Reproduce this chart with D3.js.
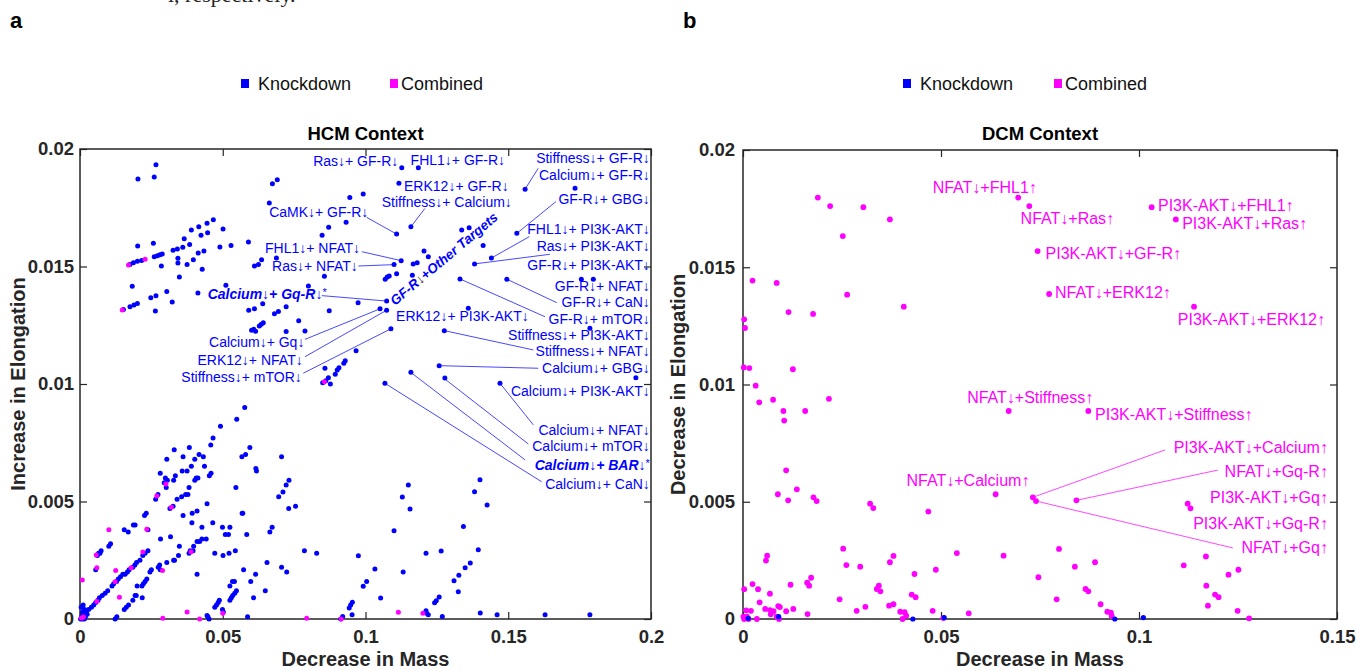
<!DOCTYPE html>
<html>
<head>
<meta charset="utf-8">
<script src="https://d3js.org/d3.v7.min.js"></script>
<style>
  body { margin: 0; background: #fff; }
  text { font-family: "Liberation Sans", Arial, Helvetica, sans-serif; }
</style>
</head>
<body>
<svg id="fig" width="1356" height="671"></svg>
<script>
// ---- data -------------------------------------------------------------
var yTicks = [0, 0.005, 0.01, 0.015, 0.02];
var hcmXTicks = [0, 0.05, 0.1, 0.15, 0.2];
var dcmXTicks = [0, 0.05, 0.1, 0.15];
var legendNames = ["Knockdown", "Combined"];

// HCM context: [decrease in mass, increase in elongation]
var hcmKnockdown = [
  [0.0266,0.01933],[0.0203,0.01872],[0.0260,0.01881],
  [0.0674,0.01852],[0.0691,0.01869],[0.0663,0.01770],
  [0.0992,0.01809],[0.0945,0.01794],[0.0932,0.01688],[0.0871,0.01667],[0.0848,0.01633],
  [0.0467,0.01699],[0.0445,0.01684],[0.0416,0.01669],[0.0390,0.01655],[0.0501,0.01660],
  [0.0447,0.01644],[0.0424,0.01633],[0.0365,0.01618],[0.0384,0.01594],
  [0.0202,0.01587],[0.0257,0.01599],[0.0590,0.01604],[0.0529,0.01589],[0.0490,0.01583],
  [0.0360,0.01582],[0.0341,0.01574],[0.0326,0.01569],
  [0.0434,0.01566],[0.0414,0.01557],[0.0397,0.01529],[0.0375,0.01509],[0.0343,0.01535],[0.0343,0.01515],
  [0.0175,0.01508],[0.0187,0.01516],[0.0201,0.01522],[0.0216,0.01526],[0.0260,0.01542],[0.0271,0.01546],[0.0280,0.01550],[0.0288,0.01553],
  [0.0285,0.01502],[0.0428,0.01488],[0.0348,0.01455],[0.0183,0.01416],[0.0511,0.01420],
  [0.0304,0.01394],[0.0266,0.01376],[0.0248,0.01367],[0.0323,0.01349],[0.0264,0.01311],
  [0.0152,0.01317],[0.0175,0.01329],[0.0189,0.01336],[0.0201,0.01343],
  [0.0636,0.01529],[0.0625,0.01508],[0.0611,0.01502],[0.0688,0.01536],[0.0856,0.01458],[0.0800,0.01417],[0.0413,0.01387],
  [0.0591,0.01314],[0.0611,0.01320],[0.0640,0.01342],[0.0681,0.01299],[0.0695,0.01308],[0.0722,0.01329],
  [0.0601,0.01229],[0.0609,0.01233],[0.0615,0.01224],[0.0628,0.01247],[0.0635,0.01254],[0.0642,0.01261],
  [0.0722,0.01223],[0.0766,0.01269],[0.0788,0.01226],[0.0873,0.01312],[0.0974,0.01346],[0.0967,0.01142],
  [0.0929,0.01099],[0.0924,0.01088],[0.0907,0.01069],[0.0901,0.01060],[0.0894,0.01041],[0.0870,0.01027],
  [0.0861,0.01014],[0.0858,0.01067],[0.0877,0.01000],[0.0850,0.01005],
  [0.1127,0.01920],[0.1185,0.01920],[0.1117,0.01854],[0.1559,0.01829],[0.1734,0.01833],
  [0.1109,0.01638],[0.1159,0.01669],[0.1337,0.01655],[0.1363,0.01665],[0.1412,0.01589],[0.1530,0.01641],
  [0.1441,0.01536],[0.1382,0.01511],[0.1205,0.01566],[0.1220,0.01542],[0.1125,0.01525],
  [0.1167,0.01511],[0.1181,0.01516],[0.1100,0.01508],
  [0.1109,0.01469],[0.1076,0.01455],[0.1069,0.01446],[0.1083,0.01460],[0.1164,0.01463],
  [0.1331,0.01447],[0.1495,0.01446],[0.1756,0.01446],[0.1798,0.01446],
  [0.1074,0.01353],[0.1051,0.01320],[0.1074,0.01314],[0.1360,0.01322],[0.1786,0.01237],
  [0.1089,0.01235],[0.1276,0.01227],[0.1258,0.01078],[0.1947,0.01027],[0.1159,0.01050],[0.1278,0.01026],
  [0.1471,0.01003],[0.1068,0.01003],
  [0.1150,0.00570],[0.1129,0.00519],[0.1156,0.00468],[0.1100,0.00376],[0.0975,0.00269],[0.1033,0.00213],
  [0.1132,0.00200],[0.1004,0.00160],[0.0992,0.00139],[0.1053,0.00089],[0.0954,0.00071],[0.0948,0.00060],
  [0.0943,0.00047],[0.0953,0.00018],[0.0920,0.00011],[0.0913,0.00000],
  [0.1212,0.00035],[0.1214,0.00024],[0.1220,0.00018],[0.1242,0.00069],[0.1248,0.00078],[0.1258,0.00094],
  [0.1269,0.00011],[0.1212,0.00280],[0.1265,0.00289],
  [0.1310,0.00163],[0.1327,0.00186],[0.1349,0.00218],[0.1367,0.00238],[0.1325,0.00116],[0.1395,0.00295],
  [0.1343,0.00394],[0.1382,0.00542],[0.1401,0.00593],[0.1426,0.00485],
  [0.1402,0.00026],[0.1461,0.00018],[0.1629,0.00018],[0.1786,0.00018],
  [0.0002,0.0000],[0.0006,0.0001],[0.0009,0.0003],[0.0013,0.0002],[0.0016,0.0004],[0.0019,0.0001],
  [0.0022,0.0003],[0.0004,0.0005],[0.0011,0.0006],[0.0025,0.0002],[0.0008,0.0000],[0.0015,0.0000],
  [0.0030,0.0004],[0.0040,0.0005],[0.0048,0.0006],[0.0055,0.0007],[0.0063,0.0008],[0.0068,0.0009],
  [0.0078,0.0010],[0.0088,0.0011],[0.0097,0.0012],[0.0112,0.0014],[0.0118,0.0015],[0.0128,0.0016],
  [0.0134,0.0017],[0.0142,0.0018],[0.0150,0.0019],[0.0158,0.0019],[0.0166,0.0020],[0.0172,0.0021],
  [0.0185,0.0022],[0.0192,0.0023],[0.0198,0.0024],[0.0210,0.0025],[0.0220,0.0027],[0.0228,0.0028],[0.0238,0.0029],
  [0.0061,0.0027],[0.0065,0.0028],[0.0070,0.0028],[0.0074,0.0029],[0.0101,0.0031],[0.0107,0.0032],[0.0055,0.0021],
  [0.0155,0.0038],[0.0169,0.0037],[0.0187,0.0040],[0.0193,0.0040],[0.0226,0.0044],[0.0232,0.0045],[0.0238,0.0038],
  [0.0265,0.0051],[0.0273,0.0053],[0.0295,0.0058],[0.0302,0.0056],[0.0306,0.0059],[0.0299,0.0060],
  [0.0281,0.0062],[0.0304,0.0068],[0.0330,0.0072],[0.0334,0.0061],[0.0328,0.0059],[0.0358,0.0063],
  [0.0375,0.0063],[0.0390,0.0065],[0.0361,0.0069],[0.0383,0.0073],[0.0402,0.0068],[0.0417,0.0070],
  [0.0432,0.0069],[0.0436,0.0065],[0.0453,0.0061],[0.0459,0.0062],[0.0407,0.0060],[0.0402,0.0059],
  [0.0413,0.0060],[0.0466,0.0077],[0.0458,0.0074],[0.0492,0.0082],[0.0549,0.0085],[0.0577,0.0090],[0.0382,0.0056],
  [0.0340,0.0051],[0.0356,0.0052],[0.0370,0.0053],[0.0378,0.0053],[0.0315,0.0047],[0.0326,0.0048],
  [0.0361,0.0044],[0.0393,0.0045],[0.0410,0.0046],[0.0445,0.0049],[0.0465,0.0041],[0.0427,0.0039],
  [0.0392,0.0041],[0.0499,0.0039],[0.0525,0.0039],[0.0570,0.0045],[0.0584,0.0036],[0.0509,0.0036],
  [0.0520,0.0036],[0.0546,0.0056],
  [0.0282,0.0034],[0.0304,0.0024],[0.0281,0.0021],[0.0274,0.0022],[0.0328,0.0025],[0.0331,0.0025],
  [0.0345,0.0027],[0.0348,0.0031],[0.0382,0.0028],[0.0386,0.0029],[0.0396,0.0029],[0.0398,0.0031],
  [0.0410,0.0033],[0.0419,0.0033],[0.0427,0.0034],[0.0442,0.0034],[0.0410,0.0019],[0.0472,0.0028],
  [0.0501,0.0027],[0.0522,0.0028],[0.0544,0.0029],[0.0573,0.0021],[0.0279,0.0023],[0.0317,0.0035],
  [0.0123,0.0000],[0.0129,0.0001],[0.0155,0.0004],[0.0162,0.0005],[0.0170,0.0006],[0.0185,0.0008],
  [0.0193,0.0010],[0.0197,0.0010],[0.0217,0.0014],[0.0222,0.0015],[0.0228,0.0016],[0.0234,0.0017],
  [0.0218,0.0009],[0.0200,0.0014],[0.0245,0.0020],[0.0250,0.0021],
  [0.0445,0.00015],[0.0448,0.0001],[0.0452,0.0000],[0.0472,0.0005],[0.0478,0.0006],[0.0484,0.0007],
  [0.0488,0.0008],[0.0499,0.0004],[0.0502,0.0003],[0.0525,0.0008],[0.0530,0.0009],[0.0535,0.0010],
  [0.0542,0.0011],[0.0548,0.0012],[0.0525,0.0014],[0.0534,0.0016],[0.0541,0.0016],[0.0598,0.0016],
  [0.0615,0.0019],[0.0608,0.0009],[0.0649,0.0012],[0.0587,0.0001],[0.0655,0.0024],[0.0706,0.0022],
  [0.0724,0.0020],[0.0786,0.0029],[0.0829,0.0028],[0.0665,0.0037],[0.0673,0.0039],[0.0696,0.0052],
  [0.0711,0.0054],[0.0722,0.0057],[0.0732,0.0059],[0.0731,0.0047],[0.0755,0.0048],[0.0706,0.0069],
  [0.0616,0.0064],[0.0618,0.0063],[0.0567,0.0069],[0.0580,0.0070],[0.0595,0.0073],[0.0568,0.0045]
];
var hcmCombined = [
  [0.0170,0.01506],[0.0228,0.01531],[0.0148,0.01315],[0.0856,0.01010],
  [0.0008,0.00166],[0.0101,0.00380],[0.0059,0.00218],[0.0057,0.00272],[0.0125,0.00206],[0.0138,0.00093],
  [0.0220,0.00285],[0.0234,0.00382],[0.0269,0.00523],[0.0301,0.00575],[0.0289,0.00206],[0.0320,0.00476],
  [0.0389,0.00286],[0.0375,0.00030],[0.0290,0.00003],[0.0419,0.00000],[0.0500,0.00025],[0.0794,0.00003],
  [0.0179,0.00218],[0.0123,0.00159],[0.0059,0.00075],[0.0012,0.00008],[0.0005,0.00004],
  [0.0915,0.00000],[0.1115,0.00029],[0.1201,0.00024]
];

// DCM context: [decrease in mass, decrease in elongation]
var dcmKnockdown = [
  [0.0013,0.00003],[0.0090,0.00010],[0.0429,0.00000],[0.0508,0.00006],[0.0939,0.00000],[0.1011,0.00006]
];
var dcmCombined = [
  [0.0189,0.01797],[0.0220,0.01761],[0.0304,0.01756],[0.0371,0.01704],[0.0252,0.01633],[0.0024,0.01443],
  [0.0085,0.01433],[0.0263,0.01383],[0.0406,0.01332],[0.0115,0.01309],[0.0177,0.01301],[0.0003,0.01278],
  [0.0005,0.01241],[0.0002,0.01073],[0.0016,0.01070],[0.0126,0.01065],[0.0032,0.00995],
  [0.0695,0.01797],[0.0723,0.01761],[0.1032,0.01756],[0.1093,0.01704],[0.0744,0.01569],[0.0773,0.01386],[0.1139,0.01332],
  [0.0041,0.00924],[0.0076,0.00935],[0.0217,0.00939],[0.0102,0.00887],[0.0104,0.00846],[0.0157,0.00887],
  [0.0671,0.00887],[0.0872,0.00887],
  [0.0109,0.00634],[0.0088,0.00532],[0.0114,0.00506],[0.0136,0.00553],[0.0178,0.00519],[0.0186,0.00503],
  [0.0321,0.00492],[0.0329,0.00473],[0.0468,0.00458],[0.0638,0.00532],
  [0.0732,0.00519],[0.0740,0.00503],[0.0842,0.00506],[0.1123,0.00492],[0.1130,0.00472],
  [0.0253,0.00300],[0.0261,0.00230],[0.0296,0.00223],[0.0058,0.00249],[0.0061,0.00270],[0.0371,0.00242],
  [0.0380,0.00269],[0.0433,0.00192],[0.0487,0.00210],[0.0540,0.00281],[0.0658,0.00270],
  [0.0798,0.00299],[0.0838,0.00223],[0.0889,0.00242],[0.0746,0.00178],[0.0792,0.00084],[0.0865,0.00128],
  [0.0872,0.00118],[0.0903,0.00063],[0.0920,0.00031],[0.0929,0.00027],[0.0931,0.00013],
  [0.1113,0.00229],[0.1169,0.00267],[0.1226,0.00189],[0.1251,0.00210],[0.1170,0.00142],[0.1192,0.00104],
  [0.1201,0.00093],[0.1174,0.00057],[0.1249,0.00035],[0.1278,0.00003],
  [0.0003,0.00127],[0.0024,0.00149],[0.0038,0.00127],[0.0068,0.00108],[0.0120,0.00146],[0.0162,0.00155],
  [0.0167,0.00142],[0.0172,0.00176],[0.0042,0.00071],[0.0089,0.00055],[0.0093,0.00051],[0.0056,0.00043],
  [0.0068,0.00038],[0.0077,0.00033],[0.0109,0.00033],[0.0127,0.00043],[0.0163,0.00021],[0.0008,0.00037],[0.0020,0.00035],
  [0.0244,0.00084],[0.0287,0.00035],[0.0309,0.00052],[0.0338,0.00128],[0.0343,0.00142],[0.0347,0.00118],
  [0.0369,0.00057],[0.0380,0.00063],[0.0397,0.00031],[0.0408,0.00029],[0.0412,0.00014],[0.0403,0.00000],
  [0.0426,0.00104],[0.0436,0.00093],[0.0479,0.00035],[0.0570,0.00024],[0.0506,0.00004],
  [0.0001,0.00010],[0.0003,0.00000],[0.0010,0.00010],[0.0014,0.00000],[0.0085,0.00010],[0.0091,0.00000],
  [0.0070,0.00020],[0.0035,0.00000]
];

// annotations: text, anchor position (data units), text-anchor, style,
// optional leader line from [lx, ly] to target [tx, ty]
var hcmLabels = [
  { t: "Ras\u2193+ GF-R\u2193", x: 0.1115, y: 0.01926, a: "end" },
  { t: "FHL1\u2193+ GF-R\u2193", x: 0.1158, y: 0.01934, a: "start" },
  { t: "Stiffness\u2193+ GF-R\u2193", x: 0.1996, y: 0.01940, a: "end", l: [0.1605, 0.01918, 0.1559, 0.01829] },
  { t: "Calcium\u2193+ GF-R\u2193", x: 0.1996, y: 0.01868, a: "end" },
  { t: "ERK12\u2193+ GF-R\u2193", x: 0.1135, y: 0.01823, a: "start" },
  { t: "Stiffness\u2193+ Calcium\u2193", x: 0.1057, y: 0.01753, a: "start", l: [0.1208, 0.01747, 0.1159, 0.01669] },
  { t: "GF-R\u2193+ GBG\u2193", x: 0.1996, y: 0.01766, a: "end", l: [0.1667, 0.01776, 0.1530, 0.01641] },
  { t: "CaMK\u2193+ GF-R\u2193", x: 0.1010, y: 0.01711, a: "end", l: [0.1004, 0.01709, 0.1109, 0.01638] },
  { t: "FHL1\u2193+ PI3K-AKT\u2193", x: 0.1996, y: 0.01640, a: "end", l: [0.1574, 0.01627, 0.1441, 0.01536] },
  { t: "Ras\u2193+ PI3K-AKT\u2193", x: 0.1996, y: 0.01564, a: "end", l: [0.1646, 0.01552, 0.1382, 0.01511] },
  { t: "GF-R\u2193+ PI3K-AKT\u2193", x: 0.1996, y: 0.01483, a: "end" },
  { t: "GF-R\u2193+ NFAT\u2193", x: 0.1996, y: 0.01394, a: "end" },
  { t: "GF-R\u2193+ CaN\u2193", x: 0.1996, y: 0.01326, a: "end", l: [0.1670, 0.01346, 0.1495, 0.01446] },
  { t: "GF-R\u2193+ mTOR\u2193", x: 0.1996, y: 0.01255, a: "end", l: [0.1629, 0.01286, 0.1331, 0.01447] },
  { t: "Stiffness\u2193+ PI3K-AKT\u2193", x: 0.1996, y: 0.01187, a: "end" },
  { t: "Stiffness\u2193+ NFAT\u2193", x: 0.1996, y: 0.01119, a: "end", l: [0.1588, 0.01145, 0.1276, 0.01227] },
  { t: "ERK12\u2193+ PI3K-AKT\u2193", x: 0.1107, y: 0.01266, a: "start" },
  { t: "Calcium\u2193+ GBG\u2193", x: 0.1996, y: 0.01047, a: "end", l: [0.1605, 0.01067, 0.1258, 0.01078] },
  { t: "Calcium\u2193+ PI3K-AKT\u2193", x: 0.1996, y: 0.00951, a: "end" },
  { t: "Calcium\u2193+ NFAT\u2193", x: 0.1996, y: 0.00781, a: "end", l: [0.1588, 0.00826, 0.1471, 0.01003] },
  { t: "Calcium\u2193+ mTOR\u2193", x: 0.1996, y: 0.00713, a: "end", l: [0.1570, 0.00745, 0.1276, 0.01023] },
  { t: "Calcium\u2193+ BAR\u2193", star: true, x: 0.1996, y: 0.00632, a: "end", bold: true, l: [0.1559, 0.00677, 0.1158, 0.01050] },
  { t: "Calcium\u2193+ CaN\u2193", x: 0.1996, y: 0.00553, a: "end", l: [0.1617, 0.00584, 0.1068, 0.01003] },
  { t: "FHL1\u2193+ NFAT\u2193", x: 0.0981, y: 0.01557, a: "end", l: [0.0987, 0.01563, 0.1125, 0.01525] },
  { t: "Ras\u2193+ NFAT\u2193", x: 0.0973, y: 0.01481, a: "end", l: [0.0975, 0.01502, 0.1100, 0.01508] },
  { t: "Calcium\u2193+ Gq-R\u2193", star: true, x: 0.0864, y: 0.01360, a: "end", bold: true, l: [0.0847, 0.01376, 0.1074, 0.01353] },
  { t: "Calcium\u2193+ Gq\u2193", x: 0.0786, y: 0.01157, a: "end", l: [0.0788, 0.01190, 0.1051, 0.01320] },
  { t: "ERK12\u2193+ NFAT\u2193", x: 0.0780, y: 0.01081, a: "end", l: [0.0788, 0.01116, 0.1074, 0.01314] },
  { t: "Stiffness\u2193+ mTOR\u2193", x: 0.0777, y: 0.01007, a: "end", l: [0.0782, 0.01046, 0.1089, 0.01235] }
];
var hcmGroupLabel = { x: 0.1103, y: 0.01332, angle: -40 };

var dcmLabels = [
  { t: "NFAT\u2193+FHL1\u2191", x: 0.0742, y: 0.01818, a: "end" },
  { t: "NFAT\u2193+Ras\u2191", x: 0.0701, y: 0.01686, a: "start" },
  { t: "PI3K-AKT\u2193+FHL1\u2191", x: 0.1048, y: 0.01740, a: "start" },
  { t: "PI3K-AKT\u2193+Ras\u2191", x: 0.1109, y: 0.01662, a: "start" },
  { t: "PI3K-AKT\u2193+GF-R\u2191", x: 0.0764, y: 0.01534, a: "start" },
  { t: "NFAT\u2193+ERK12\u2191", x: 0.0788, y: 0.01368, a: "start" },
  { t: "PI3K-AKT\u2193+ERK12\u2191", x: 0.1098, y: 0.01252, a: "start" },
  { t: "NFAT\u2193+Stiffness\u2191", x: 0.0566, y: 0.00921, a: "start" },
  { t: "PI3K-AKT\u2193+Stiffness\u2191", x: 0.0889, y: 0.00849, a: "start" },
  { t: "NFAT\u2193+Calcium\u2191", x: 0.0413, y: 0.00567, a: "start" },
  { t: "PI3K-AKT\u2193+Calcium\u2191", x: 0.1477, y: 0.00707, a: "end", l: [0.1066, 0.00721, 0.0732, 0.00519] },
  { t: "NFAT\u2193+Gq-R\u2191", x: 0.1477, y: 0.00606, a: "end", l: [0.1199, 0.00635, 0.0842, 0.00506] },
  { t: "PI3K-AKT\u2193+Gq\u2191", x: 0.1477, y: 0.00493, a: "end" },
  { t: "PI3K-AKT\u2193+Gq-R\u2191", x: 0.1477, y: 0.00385, a: "end" },
  { t: "NFAT\u2193+Gq\u2191", x: 0.1477, y: 0.00280, a: "end", l: [0.1237, 0.00303, 0.0740, 0.00503] }
];

// ---- drawing ----------------------------------------------------------
var BLUE = "#0000ff";
var MAGENTA = "#ff00ff";
var AXIS = "#262626";

var svg = d3.select("#fig");

// caption line of the page above, clipped by the top edge
svg.append("text")
  .attr("x", 168).attr("y", 2)
  .style("font-family", "'Liberation Serif', 'Times New Roman', serif")
  .style("font-size", "22px")
  .attr("fill", "#222")
  .text("l, respectively.");

function tickFmt(d) { return d === 0 ? "0" : String(d); }

function drawPanel(cfg) {
  var x = d3.scaleLinear().domain(cfg.xDomain).range([cfg.left, cfg.right]);
  var y = d3.scaleLinear().domain([0, 0.02]).range([cfg.bottom, cfg.top]);
  var g = svg.append("g");

  // panel letter
  g.append("text")
    .attr("x", cfg.letterX).attr("y", 28)
    .style("font-size", "22px").style("font-weight", "bold")
    .text(cfg.letter);

  // legend
  var leg = g.append("g");
  [BLUE, MAGENTA].forEach(function (c, i) {
    leg.append("rect")
      .attr("x", cfg.legendX[i]).attr("y", 79)
      .attr("width", 8).attr("height", 9)
      .attr("fill", c);
    leg.append("text")
      .attr("x", cfg.legendX[i] + (i === 0 ? 17 : 11)).attr("y", 90)
      .style("font-size", "18px")
      .attr("fill", "#111")
      .text(legendNames[i]);
  });

  // title
  g.append("text")
    .attr("x", (cfg.left + cfg.right) / 2).attr("y", 140)
    .attr("text-anchor", "middle")
    .style("font-size", "18.5px").style("font-weight", "bold")
    .text(cfg.title);

  // axes
  var fmtAxis = function (sel) {
    sel.select(".domain").remove();
    sel.selectAll(".tick line").attr("stroke", AXIS).attr("stroke-width", 1.2);
    sel.selectAll(".tick text")
      .attr("fill", AXIS)
      .style("font-size", "18.5px").style("font-weight", "bold")
      .style("font-family", "'Liberation Sans', Arial, sans-serif");
  };
  g.append("g").attr("transform", "translate(0," + cfg.bottom + ")")
    .call(d3.axisBottom(x).tickValues(cfg.xTicks).tickSize(-7).tickPadding(11).tickFormat(tickFmt))
    .call(fmtAxis);
  g.append("g").attr("transform", "translate(0," + cfg.top + ")")
    .call(d3.axisTop(x).tickValues(cfg.xTicks).tickSize(-7).tickFormat(""))
    .call(fmtAxis);
  g.append("g").attr("transform", "translate(" + cfg.left + ",0)")
    .call(d3.axisLeft(y).tickValues(yTicks).tickSize(-7).tickPadding(cfg.yPad).tickFormat(tickFmt))
    .call(fmtAxis);
  g.append("g").attr("transform", "translate(" + cfg.right + ",0)")
    .call(d3.axisRight(y).tickValues(yTicks).tickSize(-7).tickFormat(""))
    .call(fmtAxis);

  g.append("rect")
    .attr("x", cfg.left).attr("y", cfg.top)
    .attr("width", cfg.right - cfg.left).attr("height", cfg.bottom - cfg.top)
    .attr("fill", "none").attr("stroke", AXIS).attr("stroke-width", 1.5);

  // axis titles
  g.append("text")
    .attr("x", (cfg.left + cfg.right) / 2).attr("y", 666)
    .attr("text-anchor", "middle").attr("fill", AXIS)
    .style("font-size", "20px").style("font-weight", "bold")
    .text("Decrease in Mass");
  g.append("text")
    .attr("transform", "translate(" + cfg.yLabelX + "," + ((cfg.top + cfg.bottom) / 2) + ") rotate(-90)")
    .attr("text-anchor", "middle").attr("fill", AXIS)
    .style("font-size", "20px").style("font-weight", "bold")
    .text(cfg.yLabel);

  // leader lines
  g.append("g").selectAll("line")
    .data(cfg.labels.filter(function (d) { return d.l; }))
    .join("line")
    .attr("x1", function (d) { return x(d.l[0]); })
    .attr("y1", function (d) { return y(d.l[1]); })
    .attr("x2", function (d) { return x(d.l[2]); })
    .attr("y2", function (d) { return y(d.l[3]); })
    .attr("stroke", cfg.textColor).attr("stroke-width", 0.9).attr("opacity", 0.8);

  // points
  cfg.series.forEach(function (s) {
    g.append("g").selectAll("circle")
      .data(s.data)
      .join("circle")
      .attr("cx", function (d) { return x(d[0]); })
      .attr("cy", function (d) { return y(d[1]); })
      .attr("r", s.r)
      .attr("fill", s.color);
  });

  // labels
  var lab = g.append("g").selectAll("text")
    .data(cfg.labels)
    .join("text")
    .attr("x", function (d) { return x(d.x); })
    .attr("y", function (d) { return y(d.y); })
    .attr("text-anchor", function (d) { return d.a; })
    .attr("fill", cfg.textColor)
    .style("font-size", cfg.labelSize)
    .style("font-weight", function (d) { return d.bold ? "bold" : "normal"; })
    .style("font-style", function (d) { return d.bold ? "italic" : "normal"; });
  lab.append("tspan").text(function (d) { return d.t; });
  lab.filter(function (d) { return d.star; })
    .append("tspan")
    .style("font-weight", "normal").style("font-style", "normal")
    .style("font-size", "11px").attr("dy", -3)
    .text("*");

  return { x: x, y: y, g: g };
}

var hcm = drawPanel({
  letter: "a", letterX: 10, legendX: [241, 390],
  title: "HCM Context", yLabel: "Increase in Elongation", yLabelX: 25, yPad: 6,
  xDomain: [0, 0.2], xTicks: hcmXTicks,
  left: 80, right: 651, top: 149, bottom: 619,
  textColor: BLUE, labelSize: "14px",
  labels: hcmLabels,
  series: [
    { data: hcmKnockdown, color: BLUE, r: 2.5 },
    { data: hcmCombined, color: MAGENTA, r: 2.5 }
  ]
});

// rotated group label in HCM panel
var gl = hcm.g.append("text")
  .attr("transform", "translate(" + hcm.x(hcmGroupLabel.x) + "," + hcm.y(hcmGroupLabel.y) + ") rotate(" + hcmGroupLabel.angle + ")")
  .attr("fill", BLUE)
  .style("font-size", "13.5px").style("font-weight", "bold").style("font-style", "italic");
gl.append("tspan").text("GF-R");
gl.append("tspan").attr("fill", "#444").style("font-weight", "normal").text("\u2193");
gl.append("tspan").text("+Other Targets");

drawPanel({
  letter: "b", letterX: 683, legendX: [903, 1054],
  title: "DCM Context", yLabel: "Decrease in Elongation", yLabelX: 685, yPad: 8,
  xDomain: [0, 0.15], xTicks: dcmXTicks,
  left: 743, right: 1337, top: 150, bottom: 619,
  textColor: MAGENTA, labelSize: "16px",
  labels: dcmLabels,
  series: [
    { data: dcmCombined, color: MAGENTA, r: 2.9 },
    { data: dcmKnockdown, color: BLUE, r: 2.6 }
  ]
});
</script>
</body>
</html>
